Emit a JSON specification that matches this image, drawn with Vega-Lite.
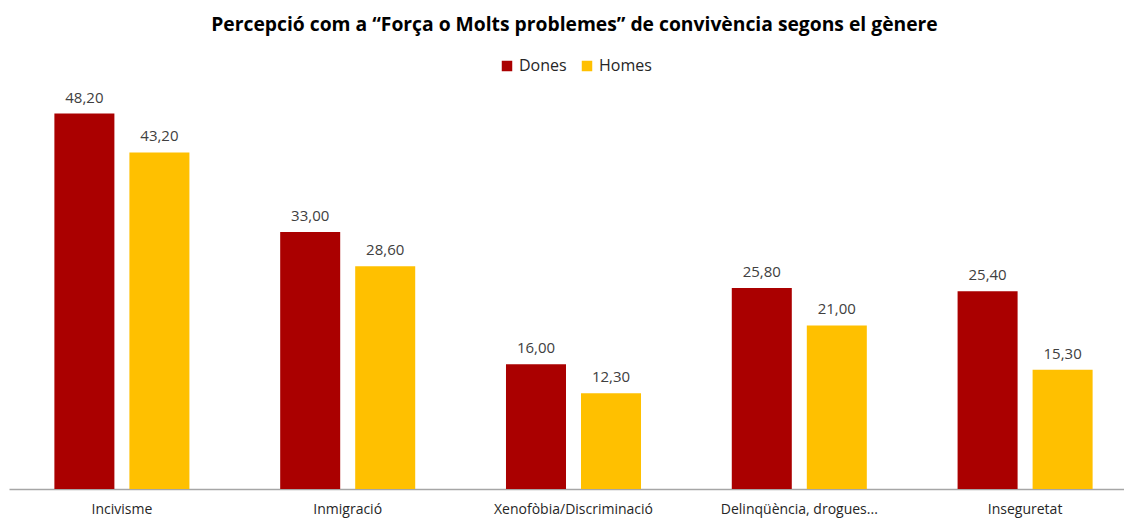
{
  "$schema": "https://vega.github.io/schema/vega-lite/v6.json",
  "width": 1115,
  "height": 400,
  "autosize": {"type": "none"},
  "padding": {"left": 9, "top": 89, "right": 0, "bottom": 30},
  "config": {
    "locale": {"number": {"decimal": ",", "thousands": ".", "grouping": [3], "currency": ["", " €"]}},
    "view": {"stroke": null},
    "font": "Open Sans"
  },
  "title": {
    "text": "Percepció com a “Força o Molts problemes” de convivència segons el gènere",
    "font": "Open Sans",
    "fontSize": 19.3,
    "fontWeight": "bold",
    "color": "#000000",
    "anchor": "middle",
    "frame": "group",
    "offset": 10,
    "dx": 8,
    "dy": -13
  },
  "data": {
    "values": [
      {"cat": "Incivisme", "genere": "Dones", "val": 48.2},
      {"cat": "Incivisme", "genere": "Homes", "val": 43.2},
      {"cat": "Inmigració", "genere": "Dones", "val": 33.0},
      {"cat": "Inmigració", "genere": "Homes", "val": 28.6},
      {"cat": "Xenofòbia/Discriminació", "genere": "Dones", "val": 16.0},
      {"cat": "Xenofòbia/Discriminació", "genere": "Homes", "val": 12.3},
      {"cat": "Delinqüència, drogues...", "genere": "Dones", "val": 25.8},
      {"cat": "Delinqüència, drogues...", "genere": "Homes", "val": 21.0},
      {"cat": "Inseguretat", "genere": "Dones", "val": 25.4},
      {"cat": "Inseguretat", "genere": "Homes", "val": 15.3}
    ]
  },
  "encoding": {
    "x": {
      "field": "cat",
      "type": "nominal",
      "sort": null,
      "scale": {"range": [0, 1129], "paddingInner": 0, "paddingOuter": 0},
      "axis": {
        "title": null,
        "labelAngle": 0,
        "ticks": false,
        "domainColor": "#a6a6a6",
        "domainWidth": 1.5,
        "labelFontSize": 14,
        "labelColor": "#262626",
        "labelPadding": 13,
        "labelFont": "Open Sans"
      }
    },
    "xOffset": {
      "field": "genere",
      "sort": ["Dones", "Homes"],
      "scale": {"paddingInner": 0.2, "paddingOuter": 0.605}
    },
    "y": {
      "field": "val",
      "type": "quantitative",
      "scale": {"domain": [0, 51.35], "nice": false},
      "axis": null
    }
  },
  "layer": [
    {
      "mark": {"type": "bar"},
      "encoding": {
        "color": {
          "field": "genere",
          "type": "nominal",
          "scale": {"domain": ["Dones", "Homes"], "range": ["#AA0000", "#FFC000"]},
          "legend": {
            "orient": "none",
            "legendX": 490,
            "legendY": -31,
            "direction": "horizontal",
            "title": null,
            "symbolType": "square",
            "symbolSize": 110,
            "symbolStrokeWidth": 0,
            "labelFontSize": 16,
            "labelColor": "#262626",
            "labelOffset": 4,
            "columnPadding": 12
          }
        }
      }
    },
    {
      "mark": {"type": "text", "baseline": "middle", "dy": -16, "fontSize": 15, "color": "#404040"},
      "encoding": {
        "text": {"field": "val", "type": "quantitative", "format": ".2f"}
      }
    }
  ]
}
